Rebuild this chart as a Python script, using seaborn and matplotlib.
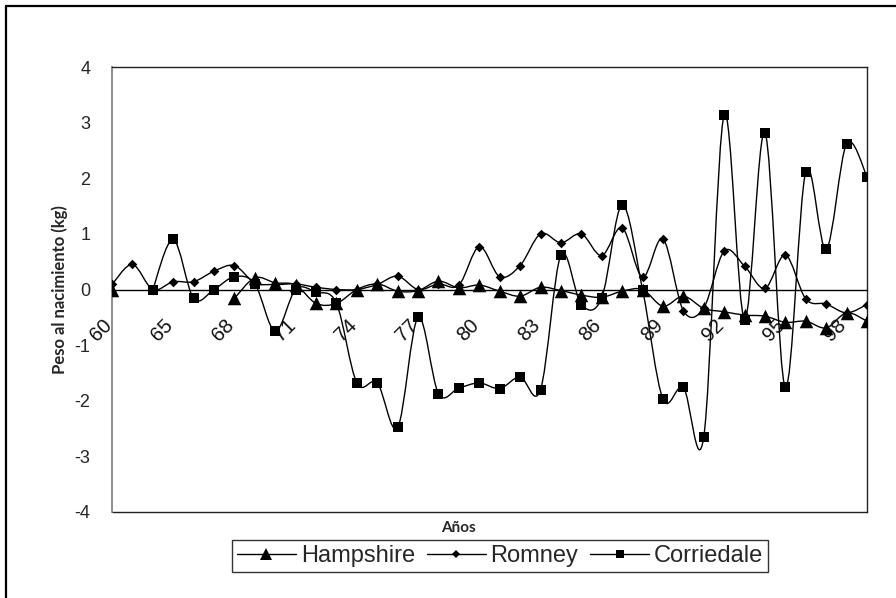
import numpy as np
import pandas as pd
import matplotlib
matplotlib.use("Agg")
import matplotlib.pyplot as plt
import matplotlib.transforms as mtransforms
from matplotlib.path import Path
from matplotlib.patches import PathPatch
from matplotlib.lines import Line2D
import seaborn as sns

# ---------------- data ----------------
nan = np.nan
posiciones = list(range(38))
hampshire = [0.0, nan, nan, nan, nan, nan, -0.16, 0.21, 0.12, 0.08,
             -0.25, -0.25, 0.0, 0.1, -0.03, -0.02, 0.15, 0.03, 0.08, -0.03,
             -0.12, 0.04, -0.02, -0.1, -0.14, -0.03, 0.0, -0.3, -0.12, -0.34,
             -0.4, -0.46, -0.48, -0.59, -0.57, -0.69, -0.42, -0.57]
romney = [0.09, 0.45, 0.0, 0.14, 0.14, 0.33, 0.43, 0.12, 0.09, 0.1,
          0.04, 0.0, 0.0, 0.09, 0.24, 0.0, 0.1, 0.08, 0.77, 0.23,
          0.43, 1.0, 0.84, 1.0, 0.61, 1.11, 0.22, 0.91, -0.38, -0.33,
          0.69, 0.42, 0.02, 0.62, -0.17, -0.26, -0.42, -0.27]
corriedale = [nan, nan, 0.0, 0.9, -0.16, 0.0, 0.23, 0.1, -0.75, 0.0,
              -0.05, -0.25, -1.68, -1.68, -2.48, -0.5, -1.87, -1.77, -1.68, -1.78,
              -1.57, -1.8, 0.62, -0.27, -0.15, 1.52, 0.0, -1.97, -1.76, -2.65,
              3.14, -0.54, 2.82, -1.76, 2.12, 0.72, 2.62, 2.03]
series_names = ["Hampshire", "Romney", "Corriedale"]
tick_label_pos = [-1, 2, 5, 8, 11, 14, 17, 20, 23, 26, 29, 32, 35]
tick_label_txt = ["60", "65", "68", "71", "74", "77", "80", "83", "86", "89", "92", "95", "98"]
y_ticks = [-4, -3, -2, -1, 0, 1, 2, 3, 4]

df = pd.DataFrame({"pos": posiciones, "Hampshire": hampshire,
                   "Romney": romney, "Corriedale": corriedale})

# ---------------- style ----------------
sns.set_style("white")
plt.rcParams["font.family"] = ["Liberation Sans", "DejaVu Sans"]

fig = plt.figure(figsize=(8.96, 5.98), dpi=100)
ax = fig.add_axes([112 / 896, 1 - 512 / 598, 755 / 896, 445 / 598])


def smooth_patch(xs, ys):
    """Excel-like smoothed line (Catmull-Rom Bezier) through data points."""
    verts, codes = [], []
    xs = np.asarray(xs, float)
    ys = np.asarray(ys, float)
    valid = ~np.isnan(ys)
    segs, cur = [], []
    for i in range(len(xs)):
        if valid[i]:
            cur.append(i)
        else:
            if cur:
                segs.append(cur)
            cur = []
    if cur:
        segs.append(cur)
    for seg in segs:
        P = np.column_stack([xs[seg], ys[seg]])
        if len(P) < 2:
            continue
        verts.append(P[0]); codes.append(Path.MOVETO)
        n = len(P)
        for i in range(n - 1):
            p0 = P[i - 1] if i > 0 else P[i]
            p1 = P[i]
            p2 = P[i + 1]
            p3 = P[i + 2] if i + 2 < n else P[i + 1]
            c1 = p1 + (p2 - p0) / 6.0
            c2 = p2 - (p3 - p1) / 6.0
            verts += [c1, c2, p2]
            codes += [Path.CURVE4] * 3
    return PathPatch(Path(verts, codes), fill=False, edgecolor="black",
                     linewidth=1.0, zorder=3)


markers = {"Hampshire": ("^", 95), "Romney": ("D", 24), "Corriedale": ("s", 50)}

for name in series_names:
    ax.add_patch(smooth_patch(df["pos"], df[name]))
for name in series_names:
    m, s = markers[name]
    sns.scatterplot(data=df, x="pos", y=name, marker=m, s=s, color="black",
                    edgecolor="black", linewidth=0, ax=ax, zorder=4, legend=False)

ax.set_xlim(0, 37)
ax.set_ylim(-4, 4)

# spines
ax.spines["left"].set_color("#858585")
ax.spines["left"].set_linewidth(1.3)
for s in ["top", "right"]:
    ax.spines[s].set_color("#222222")
    ax.spines[s].set_linewidth(1.0)
ax.spines["bottom"].set_position(("data", 0))
ax.spines["bottom"].set_color("black")
ax.spines["bottom"].set_linewidth(1.0)
ax.axhline(-4, color="#222222", linewidth=1.0, clip_on=False, zorder=2)

# ticks
ax.set_xticks(posiciones)
ax.set_xticklabels([""] * len(posiciones))
ax.tick_params(axis="x", direction="inout", length=9.5, width=1.0, color="#333333")
ax.set_yticks(y_ticks)
ax.set_yticklabels([str(v) for v in y_ticks])
ax.tick_params(axis="y", direction="inout", length=11, width=1.0, color="#333333",
               labelsize=13, pad=10)

off = mtransforms.ScaledTranslation(7.5 / 72, -19 / 72, fig.dpi_scale_trans)
for p, t in zip(tick_label_pos, tick_label_txt):
    ax.text(p, 0, t, transform=ax.transData + off, rotation=45, ha="right",
            va="top", rotation_mode="anchor", fontsize=14.5, clip_on=False,
            color="#111111")

# axis labels
ax.set_ylabel("Peso al nacimiento (kg)", fontsize=12, fontweight="bold",
              family=["Lato", "DejaVu Sans"])
ax.yaxis.set_label_coords((68 - 112) / 755, 0.5)
ax.set_xlabel("Años", fontsize=11, fontweight="bold", family=["Lato", "DejaVu Sans"])
ax.xaxis.set_label_coords((458 - 112) / 755, -0.02)

# legend
handles = [Line2D([], [], color="black", lw=1.0, marker=markers[n][0],
                  markersize=np.sqrt(markers[n][1]) * 0.85, markeredgewidth=0)
           for n in series_names]
leg = fig.legend(handles, series_names, loc="center",
                 bbox_to_anchor=(500 / 896, 1 - 556 / 598),
                 ncol=3, frameon=True, fancybox=False, edgecolor="black",
                 fontsize=17, handlelength=2.5, columnspacing=0.5,
                 handletextpad=0.2, borderpad=0.2)
leg.get_frame().set_linewidth(1.0)

# outer chart border (top and left visible)
fig.add_artist(Line2D([6 / 896, 1.0], [1 - 6 / 598, 1 - 6 / 598], color="black",
                      linewidth=1.6, transform=fig.transFigure))
fig.add_artist(Line2D([6 / 896, 6 / 896], [1 - 6 / 598, 0.0], color="black",
                      linewidth=1.6, transform=fig.transFigure))

fig.savefig("out.png", dpi=100)
